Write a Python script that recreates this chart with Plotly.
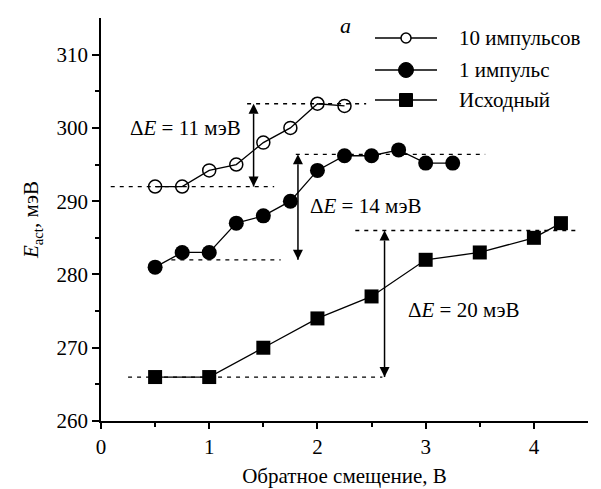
import plotly.graph_objects as go

# ---- data ----
x_10 = [0.5, 0.75, 1.0, 1.25, 1.5, 1.75, 2.0, 2.25]
y_10 = [292, 292, 294.2, 295, 298, 300, 303.3, 303]

x_1 = [0.5, 0.75, 1.0, 1.25, 1.5, 1.75, 2.0, 2.25, 2.5, 2.75, 3.0, 3.25]
y_1 = [281, 283, 283, 287, 288, 290, 294.2, 296.2, 296.2, 297, 295.2, 295.2]

x_src = [0.5, 1.0, 1.5, 2.0, 2.5, 3.0, 3.5, 4.0, 4.25]
y_src = [266, 266, 270, 274, 277, 282, 283, 285, 287]

names = ["10 импульсов", "1 импульс", "Исходный"]
x_ticks = [0, 1, 2, 3, 4]
y_ticks = [260, 270, 280, 290, 300, 310]

# energy levels for delta-E markers (low, high) and labels
dE_low = [292, 282, 266]
dE_high = [303.3, 296.4, 286]
dE_values = [11, 14, 20]

# ---- layout/positions (not data) ----
arrow_x = [1.41, 1.82, 2.62]
low_span = [(0.09, 1.6), (0.65, 1.66), (0.25, 2.6)]
high_span = [(1.35, 2.45), (1.8, 3.55), (2.35, 4.4)]
label_pos = [(0.78, 300.0), (2.45, 289.3), (3.35, 275.2)]

FONT = "Liberation Serif"
OFF = 8  # default page body margin
W, H = 601 - OFF, 489 - OFF
L, R, T, B = 101 - OFF, 13, 18 - OFF, 68
PW, PH = W - L - R, H - T - B


def px(xp):
    return (xp - OFF - L) / PW


def py(yp):
    return 1 - (yp - OFF - T) / PH


fig = go.Figure()

styles = [
    dict(symbol="circle-open", size=13, color="black", line=dict(width=1.5, color="black")),
    dict(symbol="circle", size=15, color="black"),
    dict(symbol="square", size=14, color="black"),
]
for xs, ys, nm, mk in zip([x_10, x_1, x_src], [y_10, y_1, y_src], names, styles):
    fig.add_trace(go.Scatter(x=xs, y=ys, name=nm, mode="lines+markers",
                             line=dict(color="black", width=1.3), marker=mk, showlegend=False))

for (lx0, lx1), (hx0, hx1), lo, hi in zip(low_span, high_span, dE_low, dE_high):
    fig.add_shape(type="line", xref="x", yref="y", x0=lx0, x1=lx1, y0=lo, y1=lo,
                  line=dict(color="black", width=1.3, dash="4px,5px"), layer="below")
    fig.add_shape(type="line", xref="x", yref="y", x0=hx0, x1=hx1, y0=hi, y1=hi,
                  line=dict(color="black", width=1.3, dash="4px,5px"), layer="below")

# double-headed delta-E arrows
for ax_, lo, hi, dv, (tx, ty) in zip(arrow_x, dE_low, dE_high, dE_values, label_pos):
    fig.add_trace(go.Scatter(x=[ax_, ax_], y=[lo, hi], mode="lines+markers", showlegend=False,
                             hoverinfo="skip", line=dict(color="black", width=1.5),
                             marker=dict(symbol=["arrow-down", "arrow-up"], size=10, color="black",
                                         line=dict(width=0))))
    fig.add_annotation(x=tx, y=ty, xref="x", yref="y", text=f"Δ<i>E</i> = {dv} мэВ",
                       showarrow=False, xanchor="center",
                       font=dict(family=FONT, size=21, color="black"))

# panel letter
fig.add_annotation(x=px(345), y=py(25), xref="paper", yref="paper", text="<i>a</i>",
                   showarrow=False, xanchor="center", yanchor="middle",
                   font=dict(family=FONT, size=22, color="black"))

# custom legend (line + marker + text)
leg_rows = [38, 70, 100]
msize = [5, 7.5, 6.5]
for i, (nm, yy) in enumerate(zip(names, leg_rows)):
    fig.add_shape(type="line", xref="paper", yref="paper", x0=px(375), x1=px(437),
                  y0=py(yy), y1=py(yy), line=dict(color="black", width=1.3))
    r = msize[i]
    fig.add_shape(type="circle" if i < 2 else "rect", xref="paper", yref="paper",
                  x0=px(406 - r), x1=px(406 + r), y0=py(yy + r), y1=py(yy - r),
                  fillcolor="white" if i == 0 else "black",
                  line=dict(color="black", width=1.5 if i == 0 else 1))
    fig.add_annotation(x=px(457), y=py(yy), xref="paper", yref="paper", text=nm, showarrow=False,
                       xanchor="left", yanchor="middle", font=dict(family=FONT, size=21, color="black"))

fig.update_layout(
    width=W, height=H,
    margin=dict(l=L, r=R, t=T, b=B),
    paper_bgcolor="white", plot_bgcolor="white",
    font=dict(family=FONT, size=21, color="black"),
    showlegend=False,
    xaxis=dict(range=[0, 4.5], tickvals=x_ticks, ticks="outside", ticklen=6, tickwidth=1.5,
               tickcolor="black", showline=True, linecolor="black", linewidth=1.5,
               showgrid=False, zeroline=False, automargin=False,
               tickfont=dict(family=FONT, size=21),
               minor=dict(tickvals=[0.5, 1.5, 2.5, 3.5], ticks="outside", ticklen=4, tickwidth=1.5, tickcolor="black"),
               title=dict(text="Обратное смещение, В", font=dict(family=FONT, size=21), standoff=10)),
    yaxis=dict(range=[260, 315], tickvals=y_ticks, ticks="outside", ticklen=7, tickwidth=1.5,
               tickcolor="black", showline=True, linecolor="black", linewidth=1.5,
               showgrid=False, zeroline=False, automargin=False,
               tickfont=dict(family=FONT, size=21),
               minor=dict(tickvals=[265, 275, 285, 295, 305], ticks="outside", ticklen=4, tickwidth=1.5, tickcolor="black"),
               title=dict(text="<i>E</i><sub>act</sub>, мэВ", font=dict(family=FONT, size=21), standoff=12)),
)

fig.write_html("out.html")
